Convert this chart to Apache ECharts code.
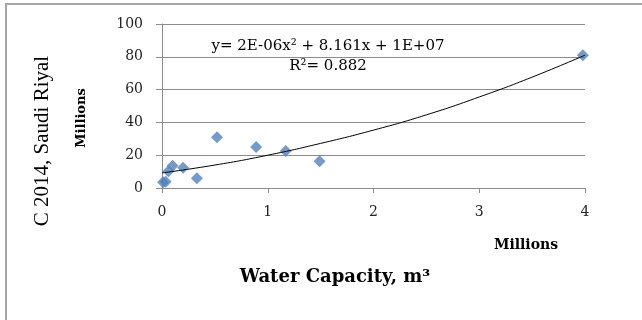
<!DOCTYPE html>
<html>
<head>
<meta charset="utf-8">
<script src="https://cdn.jsdelivr.net/npm/echarts@6/dist/echarts.min.js"></script>
<style>
  html, body { margin: 0; padding: 0; background: #fff; }
  #chart { width: 642px; height: 320px; }
</style>
</head>
<body>
<div id="chart"></div>
<script>
// 散点数据（百万）
const capacity = [0.01, 0.035, 0.06, 0.10, 0.20, 0.33, 0.52, 0.89, 1.17, 1.49, 3.98]
const cost = [3.5, 3.8, 10.2, 13.6, 12.4, 5.9, 31.0, 25.0, 22.6, 16.3, 81.0]
// 趋势线（从图上读取的点）
const trendX = [0, 0.5, 1, 1.5, 2, 2.5, 3, 3.5, 4]
const trendY = [9.2, 14.0, 20.0, 27.2, 35.3, 44.6, 55.5, 67.6, 81.0]

const serif = '"Liberation Serif", "DejaVu Serif", serif'
const wide = '"DejaVu Serif", serif'
const chart = echarts.init(document.getElementById('chart'))

const option = {
    animation: false,
    backgroundColor: '#fff',
    grid: { left: 162, right: 57, top: 24, bottom: 132 },
    xAxis: {
        type: 'value',
        min: 0, max: 4, interval: 1,
        axisLine: { show: true, lineStyle: { color: '#8c8c8c' } },
        axisTick: { show: true, length: 5, lineStyle: { color: '#8c8c8c' } },
        splitLine: { show: false },
        axisLabel: { margin: 17, color: '#222', fontSize: 14, fontFamily: wide }
    },
    yAxis: {
        type: 'value',
        min: 0, max: 100, interval: 20,
        axisLine: { show: true, lineStyle: { color: '#8c8c8c' } },
        axisTick: { show: true, length: 6, lineStyle: { color: '#8c8c8c' } },
        splitLine: { show: true, lineStyle: { color: '#8c8c8c' } },
        axisLabel: { margin: 19, color: '#222', fontSize: 14, fontFamily: wide }
    },
    series: [
        {
            type: 'line',
            data: trendX.map((x, i) => [x, trendY[i]]),
            smooth: true,
            showSymbol: false,
            lineStyle: { color: '#000', width: 1 },
            z: 3
        },
        {
            type: 'scatter',
            data: capacity.map((x, i) => [x, cost[i]]),
            symbol: 'diamond',
            symbolSize: [12, 12],
            itemStyle: { color: '#4f81bd' },
            z: 2
        }
    ],
    graphic: [
        // 外框
        {
            type: 'rect',
            shape: { x: 6, y: 4, width: 650, height: 330 },
            style: { fill: 'none', stroke: '#a6a6a6', lineWidth: 2 },
            silent: true
        },
        {
            type: 'text', x: 42, y: 141, rotation: Math.PI / 2,
            style: { text: 'C 2014, Saudi Riyal', font: '21px ' + serif, fill: '#000', align: 'center', verticalAlign: 'middle' }
        },
        {
            type: 'text', x: 82, y: 118, rotation: Math.PI / 2,
            style: { text: 'Millions', font: 'bold 13px ' + wide, fill: '#000', align: 'center', verticalAlign: 'middle' }
        },
        {
            type: 'text', x: 526, y: 245,
            style: { text: 'Millions', font: 'bold 14px ' + wide, fill: '#000', align: 'center', verticalAlign: 'middle' }
        },
        {
            type: 'text', x: 335, y: 277,
            style: { text: 'Water Capacity, m³', font: 'bold 18px ' + wide, fill: '#000', align: 'center', verticalAlign: 'middle' }
        },
        {
            type: 'text', x: 328, y: 46,
            style: { text: 'y= 2E-06x² + 8.161x + 1E+07', font: '15px ' + wide, fill: '#000', align: 'center', verticalAlign: 'middle' }
        },
        {
            type: 'text', x: 328, y: 66,
            style: { text: 'R²= 0.882', font: '15px ' + wide, fill: '#000', align: 'center', verticalAlign: 'middle' }
        }
    ]
}
chart.setOption(option)
</script>
</body>
</html>
